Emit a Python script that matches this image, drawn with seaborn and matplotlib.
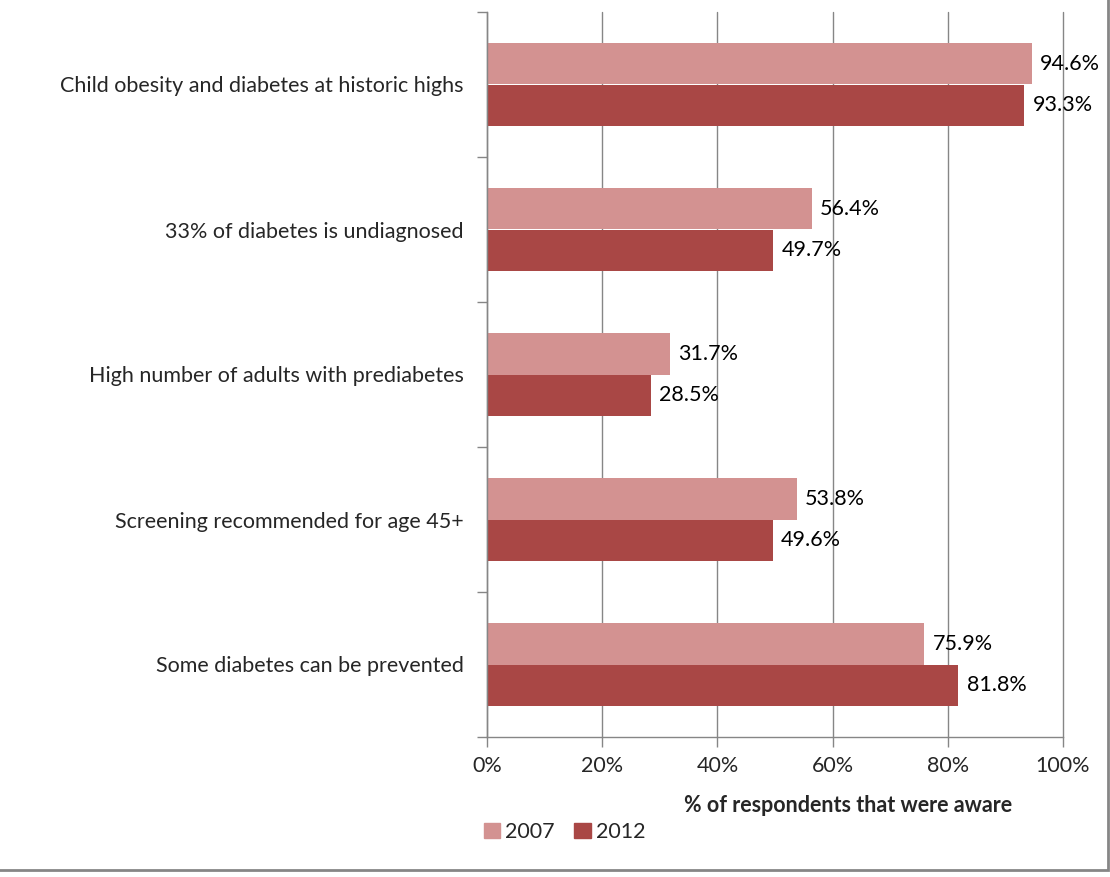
import matplotlib
matplotlib.use("Agg")
import matplotlib.pyplot as plt
import matplotlib.patches as mpatches
import seaborn as sns
import pandas as pd

categories = [
    "Child obesity and diabetes at historic highs",
    "33% of diabetes is undiagnosed",
    "High number of adults with prediabetes",
    "Screening recommended for age 45+",
    "Some diabetes can be prevented",
]
years = ["2007", "2012"]
values_2007 = [94.6, 56.4, 31.7, 53.8, 75.9]
values_2012 = [93.3, 49.7, 28.5, 49.6, 81.8]
x_ticks = [0, 20, 40, 60, 80, 100]
colors = {"2007": "#D39291", "2012": "#A94745"}

df = pd.DataFrame({
    "category": categories * 2,
    "year": [years[0]] * len(categories) + [years[1]] * len(categories),
    "value": values_2007 + values_2012,
})

sns.set_theme(style="white")
plt.rcParams["font.family"] = ["Lato", "DejaVu Sans"]
FS = 15.5

fig = plt.figure(figsize=(11.1, 8.77), dpi=100)
ax = fig.add_axes([487 / 1110, 1 - 737 / 877, (1063 - 487) / 1110, (737 - 12) / 877])

sns.barplot(data=df, y="category", x="value", hue="year", order=categories,
            hue_order=years, palette=colors, orient="h", width=0.57,
            saturation=1, ax=ax, legend=False, edgecolor="none")

for cont in ax.containers:
    ax.bar_label(cont, labels=[f"{v:.1f}%" for v in cont.datavalues],
                 padding=6, fontsize=FS, color="black")

ax.set_xlim(0, 100)
ax.set_ylim(4.5, -0.5)
ax.set_xticks(x_ticks)
ax.set_xticklabels([f"{t}%" for t in x_ticks], fontsize=FS)
ax.xaxis.grid(True, color="#868686", linewidth=1)
for gl in ax.get_xgridlines():
    gl.set_clip_on(False)
ax.set_axisbelow(True)

# category boundaries carry the tick marks, centres carry the labels
ax.set_yticks([i - 0.5 for i in range(len(categories) + 1)])
ax.set_yticklabels([])
ax.set_yticks(range(len(categories)), minor=True)
ax.set_yticklabels(categories, minor=True, fontsize=FS)
ax.tick_params(axis="y", which="minor", length=0, pad=17)
ax.tick_params(axis="y", which="major", length=7, width=1, color="#868686", left=True)
ax.tick_params(axis="x", length=7, width=1, color="#868686", bottom=True, pad=7)

for side in ["top", "right"]:
    ax.spines[side].set_visible(False)
for side in ["left", "bottom"]:
    ax.spines[side].set_color("#868686")
    ax.spines[side].set_linewidth(1)

ax.set_ylabel("")
ax.set_xlabel("")
fig.text(848 / 1110, 1 - 805 / 877, "% of respondents that were aware",
         ha="center", va="center", fontsize=FS, fontweight="bold")

handles = [mpatches.Patch(color=colors[y], label=y) for y in years]
fig.legend(handles=handles, loc="center left",
           bbox_to_anchor=(471 / 1110, 1 - 832 / 877), ncol=2, frameon=False,
           fontsize=FS, handlelength=0.75, handleheight=0.75, handletextpad=0.25,
           columnspacing=0.9, borderaxespad=0.2)

border = mpatches.Rectangle((-0.01, 7 / 877), 1108 / 1110 + 0.01, 1.0,
                            transform=fig.transFigure, fill=False,
                            edgecolor="#868686", linewidth=2)
fig.patches.append(border)

fig.savefig("out.png", dpi=100)
